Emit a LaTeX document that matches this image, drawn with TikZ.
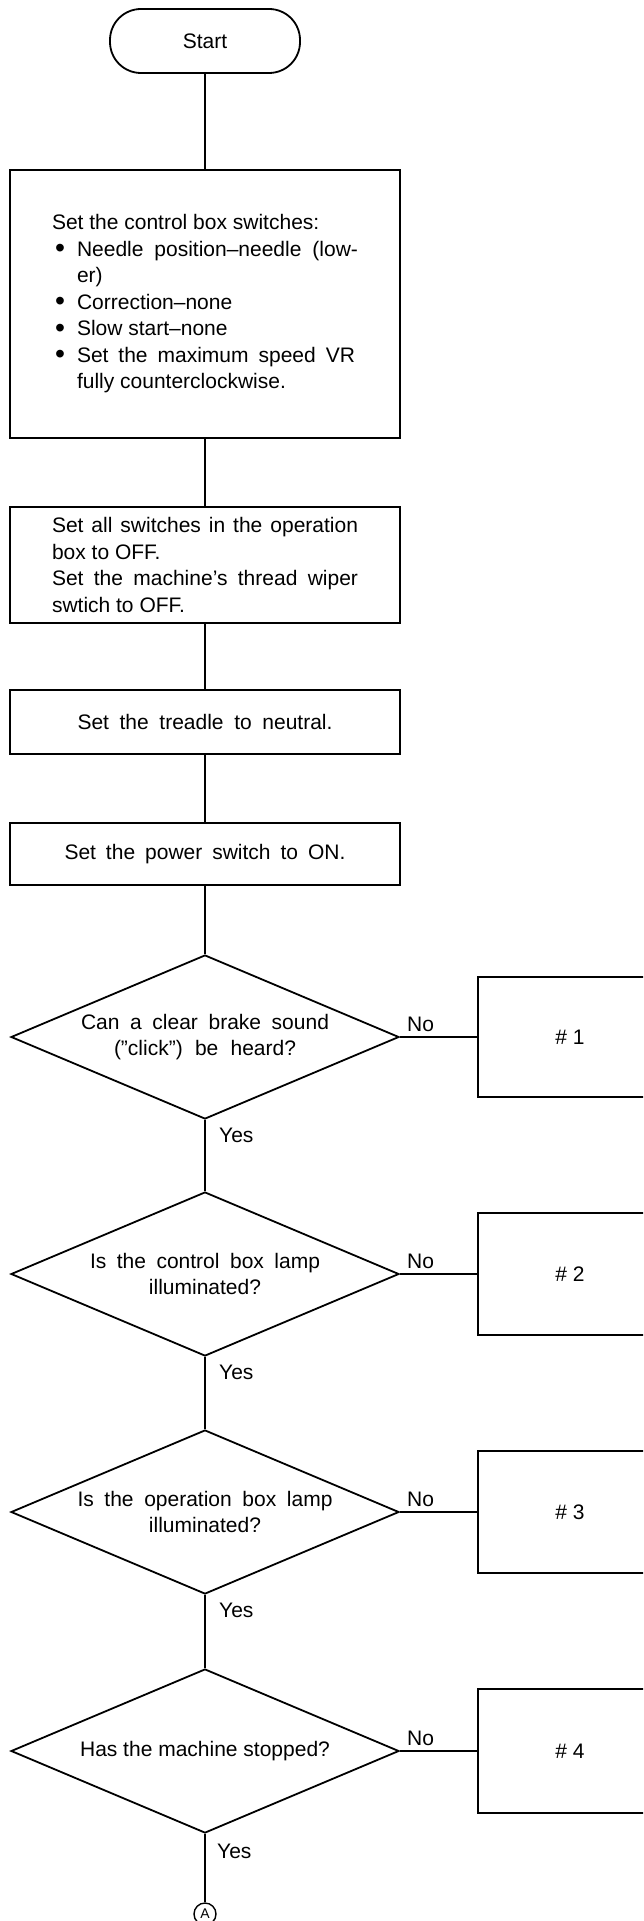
\documentclass[tikz,border=0pt]{standalone}
\usepackage{fontspec}
\setmainfont{Liberation Sans}
\usetikzlibrary{shapes.geometric}
\newcommand{\jline}[2]{\makebox[#1][s]{#2}}
\newcommand{\bul}{\hspace*{3pt}\makebox[22pt][l]{\smash{\raisebox{-1.2pt}{\scalebox{1.35}{\textbullet}}}}}
\tikzset{
  base/.style={font=\fontsize{21}{26.5}\selectfont},
  procbox/.style={base, draw, line width=1.8pt, rectangle, inner sep=0pt, align=left},
  startbox/.style={base, draw, line width=1.8pt, rectangle, rounded corners=31pt, minimum width=190pt, minimum height=64pt},
  decision/.style={base, draw, line width=1.8pt, diamond, aspect=2.37, inner sep=0pt, minimum width=388pt, minimum height=164pt, align=center},
  conn/.style={line width=1.5pt},
  lbl/.style={base, inner sep=0pt},
  conncircle/.style={draw, circle, line width=1.4pt, inner sep=0pt, minimum size=22pt, font=\fontsize{14}{14}\selectfont}
}
\begin{document}
\begin{tikzpicture}[x=1pt,y=-1pt]
\fill[white] (0,0) rectangle (643,1921);
\clip (0,0) rectangle (643,1921);

\node[startbox] (start) at (205,41) {Start};

\node[procbox, minimum width=390pt, minimum height=268pt] (b1) at (205,304)
 {\parbox{306pt}{%
  Set the control box switches:\\
  \bul\jline{281pt}{Needle position--needle (low-}\\
  \hspace*{25pt}er)\\
  \bul Correction--none\\
  \bul Slow start--none\\
  \bul\jline{278pt}{Set the maximum speed VR}\\
  \hspace*{25pt}fully counterclockwise.}};

\node[procbox, minimum width=390pt, minimum height=116pt] (b2) at (205,565)
 {\parbox{306pt}{%
  \jline{306pt}{Set all switches in the operation}\\
  box to OFF.\\
  \jline{306pt}{Set the machine's thread wiper}\\
  swtich to OFF.}};

\node[procbox, minimum width=390pt, minimum height=64pt] (b3) at (205,722)
 {\jline{255pt}{Set the treadle to neutral.}};

\node[procbox, minimum width=390pt, minimum height=62pt] (b4) at (205,854)
 {\jline{281pt}{Set the power switch to ON.}};

\node[decision] (d1) at (205,1037)
 {\jline{248pt}{Can a clear brake sound}\\ \jline{182pt}{(\char34 click\char34) be heard?}};
\node[decision] (d2) at (205,1274)
 {\jline{230pt}{Is the control box lamp}\\ illuminated?};
\node[decision] (d3) at (205,1512)
 {\jline{255pt}{Is the operation box lamp}\\ illuminated?};
\node[decision] (d4) at (205,1751)
 {Has the machine stopped?};

\node[procbox, minimum width=184pt, minimum height=120pt, align=center] (r1) at (570,1037) {\#\ 1};
\node[procbox, minimum width=184pt, minimum height=122pt, align=center] (r2) at (570,1274) {\#\ 2};
\node[procbox, minimum width=184pt, minimum height=122pt, align=center] (r3) at (570,1512) {\#\ 3};
\node[procbox, minimum width=184pt, minimum height=124pt, align=center] (r4) at (570,1751) {\#\ 4};

\node[conncircle] (ca) at (205,1914) {A};

\draw[conn] (start.south) -- (b1.north);
\draw[conn] (b1.south) -- (b2.north);
\draw[conn] (b2.south) -- (b3.north);
\draw[conn] (b3.south) -- (b4.north);
\draw[conn] (b4.south) -- (d1.north);
\draw[conn] (d1.south) -- (d2.north);
\draw[conn] (d2.south) -- (d3.north);
\draw[conn] (d3.south) -- (d4.north);
\draw[conn] (d4.south) -- (ca.north);
\draw[conn] (d1.east) -- (r1.west);
\draw[conn] (d2.east) -- (r2.west);
\draw[conn] (d3.east) -- (r3.west);
\draw[conn] (d4.east) -- (r4.west);

\node[lbl, anchor=west] (no1) at ([xshift=7pt,yshift=13pt]d1.east) {No};
\node[lbl, anchor=west] (no2) at ([xshift=7pt,yshift=13pt]d2.east) {No};
\node[lbl, anchor=west] (no3) at ([xshift=7pt,yshift=13pt]d3.east) {No};
\node[lbl, anchor=west] (no4) at ([xshift=7pt,yshift=13pt]d4.east) {No};

\node[lbl, anchor=west] (yes1) at ([xshift=14pt,yshift=-15pt]d1.south) {Yes};
\node[lbl, anchor=west] (yes2) at ([xshift=14pt,yshift=-15pt]d2.south) {Yes};
\node[lbl, anchor=west] (yes3) at ([xshift=14pt,yshift=-15pt]d3.south) {Yes};
\node[lbl, anchor=west] (yes4) at ([xshift=12pt,yshift=-17pt]d4.south) {Yes};
\end{tikzpicture}
\end{document}
